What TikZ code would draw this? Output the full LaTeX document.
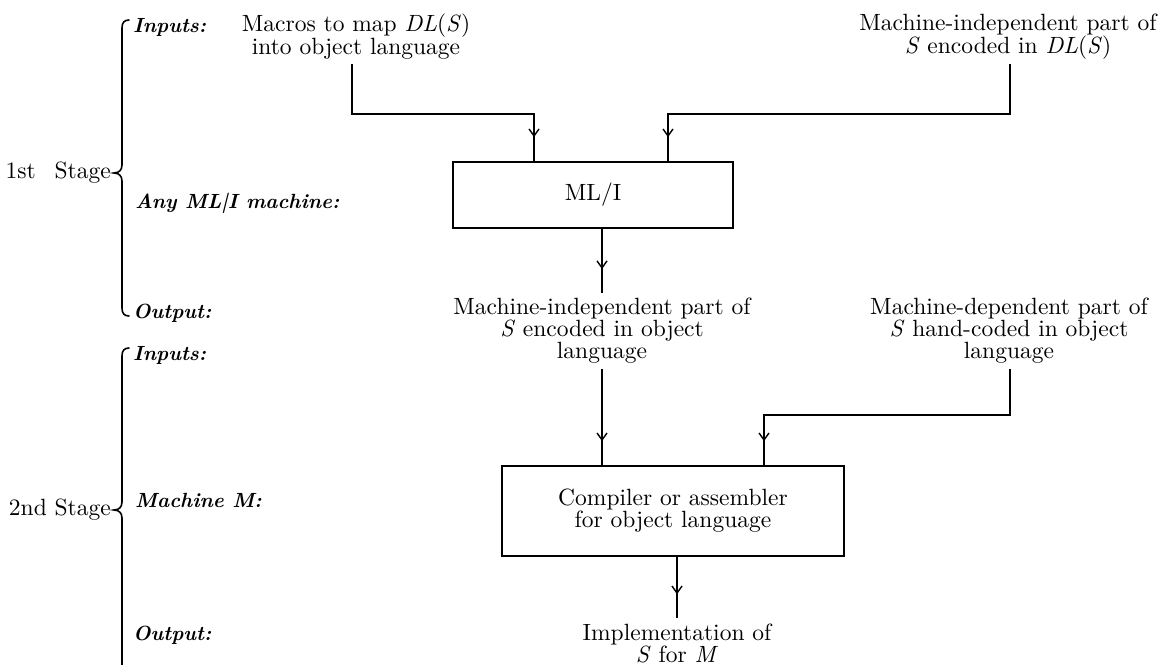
\documentclass[tikz,border=0pt]{standalone}
\usepackage{fontspec}
\setmainfont{lmroman10-regular.otf}[
  BoldFont=lmroman10-bold.otf,
  ItalicFont=lmroman10-italic.otf,
  BoldItalicFont=lmroman10-bolditalic.otf]
\usetikzlibrary{arrows.meta,decorations.markings}
\begin{document}
\begin{tikzpicture}[x=1pt,y=-1pt,
  every node/.style={inner sep=0pt, font=\fontsize{23.5}{22}\selectfont},
  txt/.style={align=center},
  lbl/.style={anchor=west, font=\fontsize{20.5}{22}\selectfont\bfseries\itshape},
  stg/.style={anchor=east},
  proc/.style={draw, line width=1.7pt, align=center},
  conn/.style={line width=1.7pt, postaction={decorate},
    decoration={markings, mark=at position -24pt with {\arrow{Straight Barb[length=7pt,width=10pt,line width=1.4pt]}}}},
  brace/.style={line width=1.6pt, line cap=round}
]
\useasboundingbox (0,0) rectangle (1161,664);

% stage braces and labels
\draw[brace] (129,20) .. controls (124,20) and (122,23) .. (122,28) -- (122,165)
  .. controls (122,170) and (119,173) .. (114,173)
  .. controls (119,173) and (122,176) .. (122,181) -- (122,308)
  .. controls (122,313) and (124,316) .. (129,316);
\draw[brace] (129,348) .. controls (124,348) and (122,351) .. (122,356) -- (122,502)
  .. controls (122,507) and (119,510) .. (114,510)
  .. controls (119,510) and (122,513) .. (122,518) -- (122,680);

\node[stg] (s1) at (111,173) {1st\hspace{0.8em}Stage};
\node[stg] (s2) at (111,510) {2nd Stage};

\node[lbl] (in1) at (133,27) {Inputs:};
\node[lbl] (any) at (135,203) {Any ML|I machine:};
\node[lbl] (out1) at (133,313) {Output:};
\node[lbl] (in2) at (133,355) {Inputs:};
\node[lbl] (mm) at (135,500) {Machine M:};
\node[lbl] (out2) at (133,635) {Output:};

% texts and boxes
\node[txt] (t1) at (356,37) {Macros to map \textit{DL}(\textit{S})\\into object language};
\node[txt] (t2) at (1008,37) {Machine-independent part of\\\textit{S} encoded in \textit{DL}(\textit{S})};
\node[proc, minimum width=280pt, minimum height=66pt] (ml) at (593,195) {ML/I};
\node[txt] (t3) at (602,331) {Machine-independent part of\\\textit{S} encoded in object\\language};
\node[txt] (t4) at (1009,331) {Machine-dependent part of\\\textit{S} hand-coded in object\\language};
\node[proc, minimum width=342pt, minimum height=90pt] (cp) at (673,511) {Compiler or assembler\\for object language};
\node[txt] (t5) at (677,643) {Implementation of\\\textit{S} for \textit{M}};

% connectors
\coordinate (j1) at (534,114);
\coordinate (j2) at (668,114);
\coordinate (j3) at (764,415);
\draw[conn] ([yshift=-4pt]352,0 |- t1.south) |- (j1) -- (j1 |- ml.north);
\draw[conn] ([yshift=-4pt]1010,0 |- t2.south) |- (j2) -- (j2 |- ml.north);
\draw[conn] (t3.north |- ml.south) -- ([yshift=5pt]t3.north);
\draw[conn] ([yshift=-5pt]t3.south) -- (t3.south |- cp.north);
\draw[conn] ([yshift=-5pt]1010,0 |- t4.south) |- (j3) -- (j3 |- cp.north);
\draw[conn] (t5.north |- cp.south) -- ([yshift=5pt]t5.north);
\end{tikzpicture}
\end{document}
